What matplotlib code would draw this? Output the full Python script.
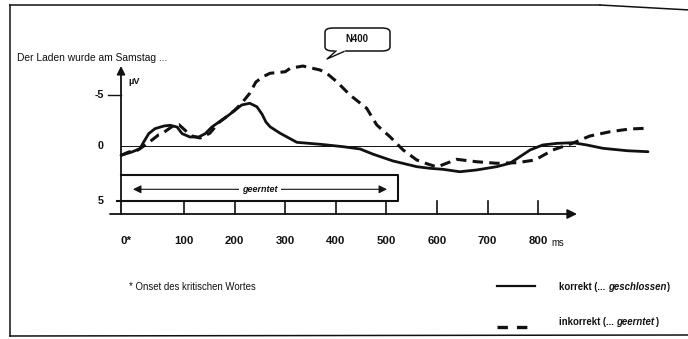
import numpy as np
import matplotlib
matplotlib.use('Agg')
import matplotlib.pyplot as plt
from matplotlib import font_manager as fm
from matplotlib.patches import FancyBboxPatch
from matplotlib.lines import Line2D

# pick a narrow font if one is installed, else shrink Liberation Sans
SF = 0.82
plt.rcParams['font.family'] = ['Liberation Sans', 'DejaVu Sans']
for fam, st in [('Liberation Sans Narrow', 'normal'), ('Arial Narrow', 'normal')]:
    try:
        p = fm.findfont(fm.FontProperties(family=fam, stretch=st), fallback_to_default=False)
    except Exception:
        continue
    if 'Narrow' in p or 'Condensed' in p:
        plt.rcParams['font.family'] = [fam, 'DejaVu Sans']
        SF = 1.0
        break
plt.rcParams['lines.scale_dashes'] = False

# ---------------- data (ms, µV; negative up) ----------------
time_korrekt = [0, 17, 30, 36, 44, 54, 68, 78, 89, 97, 112, 129, 142, 155, 169, 185, 197, 214,
                230, 244, 254, 262, 270, 290, 323, 369, 414, 448, 474, 513, 560, 586, 612,
                645, 678, 718, 744, 764, 784, 809, 837, 869, 896, 928, 976, 1017]
uv_korrekt = [0.85, 0.55, 0.25, -0.39, -1.21, -1.70, -1.96, -2.03, -1.86, -1.21, -0.88, -0.88,
              -1.21, -1.86, -2.35, -2.9, -3.36, -4.02, -4.19, -3.85, -3.14, -2.35, -1.89,
              -1.25, -0.36, -0.17, 0.06, 0.27, 0.75, 1.36, 1.88, 2.03, 2.12, 2.34, 2.18,
              1.88, 1.57, 0.97, 0.36, -0.10, -0.26, -0.32, -0.10, 0.21, 0.43, 0.52]

time_inkorrekt = [0, 12, 27, 43, 60, 65, 84, 92, 106, 116, 132, 151, 169, 185, 200, 214, 230,
                  242, 256, 270, 300, 310, 335, 369, 382, 402, 428, 461, 481, 507, 533, 560,
                  576, 600, 639, 678, 718, 758, 794, 829, 869, 902, 942, 981, 1015]
uv_inkorrekt = [0.85, 0.55, 0.36, -0.29, -1.11, -1.21, -2.03, -2.09, -1.37, -0.98, -0.78,
                -1.25, -2.3, -2.9, -3.5, -4.19, -5.17, -6.27, -6.79, -7.13, -7.28, -7.62,
                -7.84, -7.45, -7.13, -6.30, -5.0, -3.70, -2.06, -0.91, 0.36, 1.27, 1.55,
                1.91, 1.21, 1.43, 1.57, 1.52, 1.27, 0.36, -0.29, -0.98, -1.40, -1.67, -1.74]

x_ticks = [0, 100, 200, 300, 400, 500, 600, 700, 800]
x_tick_labels = ['0*', '100', '200', '300', '400', '500', '600', '700', '800']
y_ticks = [-5, 0, 5]
y_tick_labels = ['-5', '0', '5']

W, H = 688, 339
fig = plt.figure(figsize=(W / 100, H / 100), dpi=100)
fig.patch.set_facecolor('white')
ax = fig.add_axes([0, 0, 1, 1])
ax.axis('off')

# hand-drawn axis: first 100 ms drawn wider than the rest, positive µV slightly taller
def fx(x):
    x = np.asarray(x, float)
    return np.where(x < 100, x * 1.245, x + 24.5)

def ix(u):
    u = np.asarray(u, float)
    return np.where(u < 124.5, u / 1.245, u - 24.5)

def fy(v):
    v = np.asarray(v, float)
    return np.where(v > 0, v * 11 / 10.2, v)

def iy(u):
    u = np.asarray(u, float)
    return np.where(u > 0, u * 10.2 / 11, u)

ax.set_xscale('function', functions=(fx, ix))
ax.set_yscale('function', functions=(fy, iy))
XPX = 0.506   # px per scaled ms
ax.set_xlim(float(ix(-121 / XPX)), float(ix((W - 121) / XPX)))
ax.set_ylim(float(iy((H - 146) / 10.2)), float(iy(-146 / 10.2)))

def msx(px):
    return float(ix((px - 121) / XPX))

def uvy(py):
    return float(iy((py - 146) / 10.2))

def F(px, py):
    return (px / W, 1 - py / H)

K = '#111111'

# ---------------- outer frame ----------------
for (a, b) in [((10, 5), (600, 5)), ((600, 5), (690, 10)), ((10, 5), (10, 336)),
               ((10, 336), (690, 335))]:
    fig.add_artist(Line2D([F(*a)[0], F(*b)[0]], [F(*a)[1], F(*b)[1]],
                          transform=fig.transFigure, color=K, lw=1.1))

# ---------------- axes ----------------
x_axis_y = uvy(214)
ax.annotate('', xy=(msx(577), x_axis_y), xytext=(msx(110), x_axis_y),
            arrowprops=dict(arrowstyle='-|>', color=K, lw=1.3, mutation_scale=14,
                            shrinkA=0, shrinkB=0))
ax.annotate('', xy=(0, uvy(66)), xytext=(0, x_axis_y),
            arrowprops=dict(arrowstyle='-|>', color=K, lw=1.3, mutation_scale=12,
                            shrinkA=0, shrinkB=0))
ax.plot([0, msx(575)], [0, 0], color=K, lw=0.7)
ax.plot([msx(108), 0], [-5, -5], color=K, lw=1.0)

for t, lab in zip(x_ticks, x_tick_labels):
    if t > 0:
        ax.plot([t, t], [x_axis_y, uvy(201)], color=K, lw=1.2)
    ax.text(t, uvy(241), lab, ha='left' if t == 0 else 'center', va='center',
            fontsize=10 * SF, fontweight='bold', color=K)
ax.text(msx(551), uvy(243), 'ms', ha='left', va='center', fontsize=8.5 * SF, color=K)

for v, lab in zip(y_ticks, y_tick_labels):
    ax.text(msx(104), v, lab, ha='right', va='center', fontsize=9.5 * SF,
            fontweight='bold', color=K)
ax.text(msx(128), uvy(81), 'µV', ha='left', va='center', fontsize=8 * SF,
        fontweight='bold', color=K)

# ---------------- 'geerntet' box ----------------
bx0, bx1 = 0, msx(398)
by0, by1 = uvy(175), uvy(200.5)
ax.plot([bx0, bx1, bx1, msx(117)], [by0, by0, by1, by1], color=K, lw=1.5)
ay = uvy(189.3)
ax.annotate('', xy=(msx(133), ay), xytext=(msx(387), ay),
            arrowprops=dict(arrowstyle='<|-|>', color=K, lw=0.8, mutation_scale=12,
                            shrinkA=0, shrinkB=0))
ax.text(msx(260), ay, 'geerntet', ha='center', va='center', fontsize=6.5, style='italic',
        fontweight='bold', color=K,
        bbox=dict(boxstyle='square,pad=0.4', fc='white', ec='none'))

# ---------------- curves ----------------
ax.plot(time_korrekt, uv_korrekt, color=K, lw=2.0, solid_capstyle='round')
ln, = ax.plot(time_inkorrekt, uv_inkorrekt, color=K, lw=2.2)
ln.set_dashes([7.5, 4.5])

# ---------------- N400 callout ----------------
x0, y0 = F(325, 51)
x1, y1 = F(390, 28)
fig.add_artist(FancyBboxPatch((x0, y0), x1 - x0, y1 - y0,
                              boxstyle='round,pad=0,rounding_size=0.012',
                              transform=fig.transFigure, fc='white', ec=K, lw=1.1))
fig.add_artist(Line2D([F(336, 51)[0], F(344, 51)[0]], [F(336, 51)[1], F(344, 51)[1]],
                      transform=fig.transFigure, color='white', lw=1.6))
fig.add_artist(Line2D([F(336, 51)[0], F(327, 59)[0], F(344, 51.5)[0]],
                      [F(336, 51)[1], F(327, 59)[1], F(344, 51.5)[1]],
                      transform=fig.transFigure, color=K, lw=1.0))
fig.text(*F(357, 39.5), 'N400', ha='center', va='center', fontsize=8.5 * SF,
         fontweight='bold', color=K)

# ---------------- texts ----------------
fig.text(*F(17, 58), 'Der Laden wurde am Samstag ...', ha='left', va='center',
         fontsize=9 * SF, color=K)
fig.text(*F(129, 287), '* Onset des kritischen Wortes', ha='left', va='center',
         fontsize=8.5 * SF, color=K)

# legend
fig.add_artist(Line2D([F(497, 286)[0], F(535, 286)[0]], [F(497, 286)[1], F(535, 286)[1]],
                      transform=fig.transFigure, color=K, lw=1.6))
lg = Line2D([F(497, 327)[0], F(529, 327)[0]], [F(497, 327)[1], F(529, 327)[1]],
            transform=fig.transFigure, color=K, lw=2.4)
lg.set_dashes([7.5, 6.5])
fig.add_artist(lg)

def label_chain(py, parts):
    t = ax.annotate(parts[0][0], xy=F(559, py), xycoords='figure fraction', ha='left',
                    va='baseline', fontsize=8.5 * SF, fontweight='bold', color=K,
                    style=parts[0][1])
    for txt, st in parts[1:]:
        t = ax.annotate(txt, xy=(1, 0), xycoords=t, ha='left', va='bottom',
                        fontsize=8.5 * SF, fontweight='bold', color=K, style=st)
    return t

label_chain(290, [('korrekt (... ', 'normal'), ('geschlossen', 'italic'), (')', 'normal')])
label_chain(325, [('inkorrekt (... ', 'normal'), ('geerntet', 'italic'), (')', 'normal')])

fig.savefig('out.png', dpi=100, facecolor='white')
